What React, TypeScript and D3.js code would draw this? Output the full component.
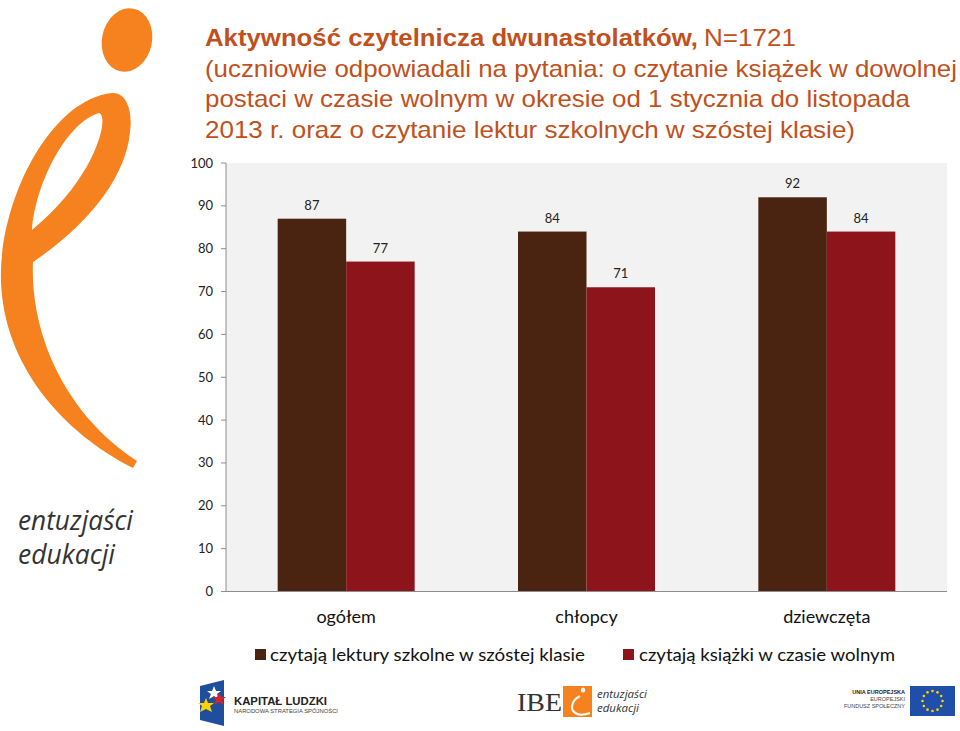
import React from "react";
import * as d3 from "d3";

const categories = ["ogółem", "chłopcy", "dziewczęta"];
const seriesNames = ["czytają lektury szkolne w szóstej klasie", "czytają książki w czasie wolnym"];
const lektury = [87, 84, 92];
const wolny = [77, 71, 84];
const yTicks = [0, 10, 20, 30, 40, 50, 60, 70, 80, 90, 100];
const titleLines = [
  "(uczniowie odpowiadali na pytania: o czytanie książek w dowolnej",
  "postaci w czasie wolnym w okresie od 1 stycznia do listopada",
  "2013 r. oraz o czytanie lektur szkolnych w szóstej klasie)",
];
const titleWidths = [752, 705, 650];

const colors = ["#4A2311", "#8E141C"];
const TITLE = "#C0501C";
const chartFont = "Lato, 'Open Sans', sans-serif";
const titleFont = "'Liberation Sans', Arial, sans-serif";

export default function App() {
  const left = 226, right = 947, top = 163, bottom = 591.5;
  const x0 = d3.scaleBand<string>().domain(categories).range([left, right]).padding(0);
  const bw = x0.bandwidth();
  const groupW = bw * 0.57;
  const x1 = d3.scaleBand<string>().domain(seriesNames).range([0, groupW]).padding(0);
  const y = d3.scaleLinear().domain([0, 100]).range([bottom, top]);
  const data = [lektury, wolny];

  return (
    <svg width={960} height={731} style={{ position: "absolute", left: 0, top: 0, background: "#fff" }}>
      {/* logo */}
      <ellipse cx={127} cy={40} rx={25} ry={32} fill="#F5821F" transform="rotate(12 127 40)" />
      <path
        fill="#F5821F"
        fillRule="evenodd"
        d="M 112 93 C 126 92, 133 110, 130 132 C 126 175, 92 222, 33 262 C 30 330, 62 412, 137 461 L 133 468 C 62 432, 4 365, 1 282 C -2 205, 48 100, 112 93 Z
           M 99 113 C 110 116, 96 178, 32 230 C 36 180, 68 122, 99 113 Z"
      />
      <text x={18} y={530} fontFamily="'Open Sans', sans-serif" fontStyle="italic" fontSize={27} fill="#333" textLength={115} lengthAdjust="spacingAndGlyphs">entuzjaści</text>
      <text x={18} y={564} fontFamily="'Open Sans', sans-serif" fontStyle="italic" fontSize={27} fill="#333" textLength={97} lengthAdjust="spacingAndGlyphs">edukacji</text>

      {/* title */}
      <text x={205} y={46} fontFamily={titleFont} fontSize={24} fill={TITLE} fontWeight="bold" textLength={493} lengthAdjust="spacingAndGlyphs">Aktywność czytelnicza dwunastolatków,</text>
      <text x={704} y={46} fontFamily={titleFont} fontSize={24} fill={TITLE} textLength={92} lengthAdjust="spacingAndGlyphs">N=1721</text>
      {titleLines.map((t, i) => (
        <text key={i} x={205} y={76.5 + i * 30.5} fontFamily={titleFont} fontSize={24} fill={TITLE} textLength={titleWidths[i]} lengthAdjust="spacingAndGlyphs">{t}</text>
      ))}

      {/* plot area */}
      <rect x={left} y={top} width={right - left} height={bottom - top} fill="#F2F2F2" />
      <line x1={left} x2={left} y1={top} y2={bottom} stroke="#8C8C8C" />
      {yTicks.map((t) => (
        <g key={t}>
          <line x1={left - 5} x2={left} y1={y(t)} y2={y(t)} stroke="#8C8C8C" />
          <text x={213} y={y(t) + 4.5} textAnchor="end" fontFamily={chartFont} fontSize={13} fill="#222">{t}</text>
        </g>
      ))}
      {categories.map((c, ci) => (
        <g key={c} transform={`translate(${x0(c)! + (bw - groupW) / 2},0)`}>
          {seriesNames.map((s, si) => (
            <g key={s}>
              <rect x={x1(s)} y={y(data[si][ci])} width={x1.bandwidth()} height={bottom - y(data[si][ci])} fill={colors[si]} />
              <text x={x1(s)! + x1.bandwidth() / 2} y={y(data[si][ci]) - 9} textAnchor="middle" fontFamily={chartFont} fontSize={13} fill="#222">{data[si][ci]}</text>
            </g>
          ))}
        </g>
      ))}
      <line x1={left - 4} x2={right} y1={bottom} y2={bottom} stroke="#8C8C8C" />
      {categories.map((c) => (
        <text key={c} x={x0(c)! + bw / 2} y={623} textAnchor="middle" fontFamily={chartFont} fontSize={18} fill="#111">{c}</text>
      ))}

      {/* legend */}
      <rect x={255} y={649} width={11} height={11} fill={colors[0]} />
      <text x={270} y={661} fontFamily={chartFont} fontSize={17} fill="#111" textLength={315} lengthAdjust="spacingAndGlyphs">{seriesNames[0]}</text>
      <rect x={623} y={649} width={11} height={11} fill={colors[1]} />
      <text x={639} y={661} fontFamily={chartFont} fontSize={17} fill="#111" textLength={256} lengthAdjust="spacingAndGlyphs">{seriesNames[1]}</text>

      {/* bottom logos: Kapitał Ludzki */}
      <path d="M 200 686 L 224 680 L 224 726 L 200 720 Z" fill="#1F4E9C" />
      <polygon points="214,686 216,691 221,691 217,694 219,699 214,696 209,699 211,694 207,691 212,691" fill="#fff" />
      <polygon points="219,693 221,697 226,697 222,700 224,705 219,702 214,705 216,700 212,697 217,697" fill="#D8232A" />
      <polygon points="206,698 208,703 214,703 210,706 212,712 206,709 200,712 202,706 198,703 204,703" fill="#FFD200" />
      <text x={234} y={705} fontFamily={titleFont} fontWeight="bold" fontSize={11.5} fill="#222" textLength={93} lengthAdjust="spacingAndGlyphs">KAPITAŁ LUDZKI</text>
      <text x={234} y={713} fontFamily={titleFont} fontSize={5} fill="#444" textLength={104} lengthAdjust="spacingAndGlyphs">NARODOWA STRATEGIA SPÓJNOŚCI</text>

      {/* IBE */}
      <text x={517} y={711} fontFamily="'Liberation Serif', serif" fontSize={25} fill="#333" textLength={45} lengthAdjust="spacingAndGlyphs">IBE</text>
      <rect x={563} y={686} width={29} height={31} fill="#F5821F" />
      <ellipse cx={583} cy={690} rx={2.2} ry={2.6} fill="#fff" />
      <path d="M 580 696 C 572 700, 570 708, 574 712 C 578 716, 584 715, 590 713" fill="none" stroke="#fff" strokeWidth={2} />
      <text x={597} y={698} fontFamily="'Open Sans', sans-serif" fontStyle="italic" fontSize={10.5} fill="#333" textLength={50} lengthAdjust="spacingAndGlyphs">entuzjaści</text>
      <text x={597} y={712} fontFamily="'Open Sans', sans-serif" fontStyle="italic" fontSize={10.5} fill="#333" textLength={42} lengthAdjust="spacingAndGlyphs">edukacji</text>

      {/* EU */}
      <text x={905} y={694} textAnchor="end" fontFamily={titleFont} fontWeight="bold" fontSize={5.5} fill="#222">UNIA EUROPEJSKA</text>
      <text x={905} y={701} textAnchor="end" fontFamily={titleFont} fontSize={5.5} fill="#444">EUROPEJSKI</text>
      <text x={905} y={708} textAnchor="end" fontFamily={titleFont} fontSize={5.5} fill="#444">FUNDUSZ SPOŁECZNY</text>
      <rect x={910} y={686} width={45} height={30} fill="#1F4FA8" />
      {d3.range(12).map((i) => {
        const a = (i / 12) * Math.PI * 2;
        return <circle key={i} cx={932.5 + 10 * Math.cos(a)} cy={701 + 10 * Math.sin(a)} r={1.3} fill="#FFD200" />;
      })}
    </svg>
  );
}
